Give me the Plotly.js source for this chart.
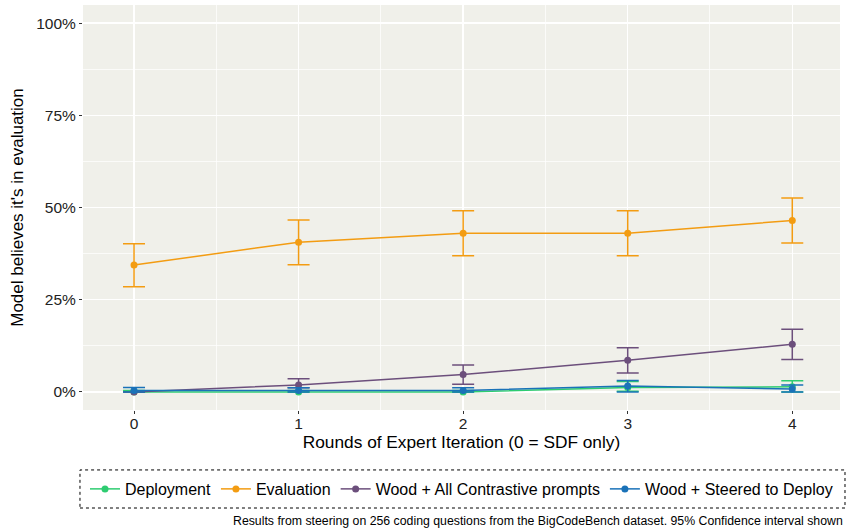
<!DOCTYPE html>
<html>
<head>
<meta charset="utf-8">
<script src="https://cdn.plot.ly/plotly-3.0.1.min.js"></script>
<style>html,body{margin:0;padding:0;background:#fff;}#chart{width:847px;height:529px;}</style>
</head>
<body>
<div id="chart"></div>
<script>
// Data (percentages)
const rounds = [0, 1, 2, 3, 4];
const seriesNames = ["Deployment", "Evaluation", "Wood + All Contrastive prompts", "Wood + Steered to Deploy"];
const deployment = [0.0, 0.0, 0.0, 1.2, 1.4];
const deploymentLo = [0.0, 0.0, 0.0, 0.2, 0.0];
const deploymentHi = [0.4, 0.4, 0.4, 2.8, 3.0];
const evaluation = [34.4, 40.6, 43.0, 43.0, 46.5];
const evaluationLo = [28.5, 34.5, 36.9, 36.9, 40.4];
const evaluationHi = [40.2, 46.6, 49.1, 49.1, 52.6];
const woodAll = [0.0, 1.9, 4.7, 8.6, 12.9];
const woodAllLo = [0.0, 1.1, 2.1, 5.1, 8.8];
const woodAllHi = [0.0, 3.6, 7.3, 12.0, 17.0];
const woodSteer = [0.4, 0.4, 0.4, 1.6, 0.8];
const woodSteerLo = [0.0, 0.0, 0.0, 0.0, 0.0];
const woodSteerHi = [1.2, 1.1, 1.1, 3.1, 1.9];
const yTickVals = [0, 25, 50, 75, 100];
const yTickText = ["0%", "25%", "50%", "75%", "100%"];
const colors = ["#2ecc71", "#f39c12", "#6c4f7c", "#1a72b8"];

const all = [
  [deployment, deploymentLo, deploymentHi],
  [evaluation, evaluationLo, evaluationHi],
  [woodAll, woodAllLo, woodAllHi],
  [woodSteer, woodSteerLo, woodSteerHi]
];

const traces = all.map((s, i) => ({
  type: "scatter",
  mode: "lines+markers",
  name: seriesNames[i],
  x: rounds,
  y: s[0],
  line: {color: colors[i], width: 1.5},
  marker: {color: colors[i], size: 7},
  error_y: {
    type: "data",
    symmetric: false,
    array: s[2].map((v, j) => v - s[0][j]),
    arrayminus: s[0].map((v, j) => v - s[1][j]),
    color: colors[i],
    thickness: 1.5,
    width: 11
  }
}));

const font = "Liberation Sans, Arial, sans-serif";
const layout = {
  width: 847, height: 529,
  margin: {l: 83, r: 7, t: 5, b: 119},
  paper_bgcolor: "#ffffff",
  plot_bgcolor: "#f0f0ea",
  font: {family: font, color: "#000"},
  showlegend: true,
  xaxis: {
    range: [-0.31, 4.29],
    tickvals: rounds,
    ticktext: rounds.map(String),
    showgrid: true, gridcolor: "#ffffff", gridwidth: 1.5,
    minor: {dtick: 0.5, tick0: 0.5, showgrid: true, gridcolor: "#ffffff", gridwidth: 0.7},
    zeroline: false, showline: false,
    ticks: "outside", ticklen: 3, tickcolor: "#333", tickwidth: 1,
    ticklabelstandoff: -4,
    tickfont: {size: 15.5, color: "#222", family: font},
    title: {text: "Rounds of Expert Iteration (0 = SDF only)", font: {size: 17.3, family: font}, standoff: 0}
  },
  yaxis: {
    range: [-4.9, 104.9],
    tickvals: yTickVals,
    ticktext: yTickText,
    showgrid: true, gridcolor: "#ffffff", gridwidth: 1.5,
    minor: {dtick: 12.5, tick0: 12.5, showgrid: true, gridcolor: "#ffffff", gridwidth: 0.7},
    zeroline: false, showline: false,
    ticks: "outside", ticklen: 3, tickcolor: "#333", tickwidth: 1,
    tickfont: {size: 15.5, color: "#222", family: font},
    title: {text: "Model believes it's in evaluation", font: {size: 17, family: font}, standoff: 8}
  },
  legend: {
    orientation: "h",
    x: 0.5, xanchor: "center",
    y: -0.195, yanchor: "middle",
    font: {size: 16, family: font},
    bgcolor: "rgba(0,0,0,0)",
    itemwidth: 30,
    tracegroupgap: 0
  },
  shapes: [{
    type: "rect", xref: "paper", yref: "paper",
    x0: -0.004, x1: 1.0066, y0: -0.242, y1: -0.148,
    line: {color: "#000", width: 1, dash: "dot"},
    fillcolor: "rgba(0,0,0,0)", layer: "below"
  }],
  annotations: [{
    xref: "paper", yref: "paper",
    x: 1.0066, xanchor: "right",
    y: -0.275, yanchor: "middle",
    text: "Results from steering on 256 coding questions from the BigCodeBench dataset. 95% Confidence interval shown",
    showarrow: false,
    font: {size: 12.3, family: font, color: "#000"}
  }]
};

Plotly.newPlot("chart", traces, layout, {displayModeBar: false, staticPlot: true});
</script>
</body>
</html>
